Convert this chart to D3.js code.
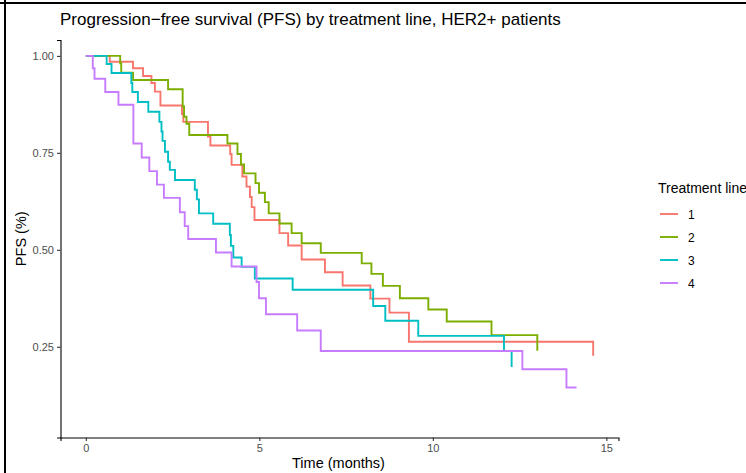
<!DOCTYPE html>
<html>
<head>
<meta charset="utf-8">
<script src="https://cdn.jsdelivr.net/npm/d3@7"></script>
<style>
  body { margin: 0; background: #ffffff; }
  svg text { font-family: "Liberation Sans", Arial, sans-serif; }
</style>
</head>
<body>
<div id="grafica_pfs"></div>
<script>
var lineas = ["1", "2", "3", "4"];
var colores = ["#F8766D", "#7CAE00", "#00BFC4", "#C77CFF"];

var tiempo1 = [0, 0.69, 1.36, 1.65, 1.89, 1.99, 2.15, 2.77, 2.81, 3.52, 3.59, 4.16, 4.20, 4.51, 4.63, 4.73, 4.78, 4.86, 5.58, 5.83, 6.22, 6.89, 7.40, 8.20, 8.75, 9.31, 14.62];
var pfs1 = [1, 0.985, 0.968, 0.948, 0.930, 0.908, 0.872, 0.850, 0.830, 0.792, 0.769, 0.747, 0.719, 0.689, 0.663, 0.636, 0.610, 0.577, 0.543, 0.511, 0.475, 0.442, 0.408, 0.374, 0.338, 0.263, 0.227];

var tiempo2 = [0, 0.99, 1.02, 1.36, 2.37, 2.79, 2.83, 2.90, 2.98, 4.08, 4.37, 4.47, 4.56, 4.89, 4.99, 5.16, 5.27, 5.58, 5.93, 6.22, 6.77, 7.95, 8.23, 8.56, 9.05, 9.87, 10.40, 11.69, 13.01];
var pfs2 = [1, 0.981, 0.957, 0.938, 0.914, 0.870, 0.843, 0.825, 0.796, 0.774, 0.747, 0.720, 0.697, 0.672, 0.647, 0.623, 0.594, 0.568, 0.543, 0.517, 0.492, 0.465, 0.438, 0.407, 0.375, 0.346, 0.315, 0.280, 0.240];

var tiempo3 = [0, 0.60, 0.74, 1.31, 1.34, 1.50, 1.80, 2.12, 2.18, 2.21, 2.28, 2.37, 2.42, 2.57, 3.14, 3.20, 3.26, 3.67, 4.15, 4.18, 4.25, 4.49, 4.87, 5.96, 8.28, 8.63, 9.58, 12.05, 12.27];
var pfs3 = [1, 0.979, 0.956, 0.930, 0.907, 0.881, 0.856, 0.830, 0.805, 0.781, 0.753, 0.727, 0.706, 0.680, 0.655, 0.630, 0.594, 0.567, 0.538, 0.510, 0.480, 0.456, 0.426, 0.397, 0.355, 0.317, 0.278, 0.239, 0.198];

var tiempo4 = [0, 0.20, 0.25, 0.56, 0.94, 1.37, 1.61, 1.83, 2.05, 2.25, 2.71, 2.85, 2.95, 3.75, 4.20, 4.92, 4.99, 5.19, 6.09, 6.77, 12.58, 13.85, 14.14];
var pfs4 = [1, 0.968, 0.941, 0.907, 0.874, 0.774, 0.738, 0.703, 0.668, 0.634, 0.597, 0.561, 0.528, 0.493, 0.457, 0.417, 0.375, 0.334, 0.292, 0.239, 0.192, 0.145, 0.145];

var xTicks = [0, 5, 10, 15];
var yTicks = [0.25, 0.50, 0.75, 1.00];

var tiempos = [tiempo1, tiempo2, tiempo3, tiempo4];
var valores = [pfs1, pfs2, pfs3, pfs4];

// dimensiones
var w_full = 746,
    h_full = 473;

var margin = {
        top: 40,
        right: 127.5,
        bottom: 35.5,
        left: 60.5
    };

var w = w_full - (margin.left + margin.right),
    h = h_full - (margin.top + margin.bottom);

var svg = d3.select("#grafica_pfs")
    .append("svg")
    .attr("width", w_full)
    .attr("height", h_full);

// marco negro de la captura
svg.append("line")
    .attr("x1", 0).attr("y1", 3).attr("x2", w_full).attr("y2", 3)
    .attr("stroke", "#000").attr("stroke-width", 2);
svg.append("line")
    .attr("x1", 5).attr("y1", 0).attr("x2", 5).attr("y2", h_full)
    .attr("stroke", "#000").attr("stroke-width", 2);

var svgT = svg.append("g")
    .attr("transform", "translate(" + margin.left + "," + margin.top + ")");

var x = d3.scaleLinear()
    .domain([-0.73, 15.35])
    .range([0, w]);

var y = d3.scaleLinear()
    .domain([0.016, 1.041])
    .range([h, 0]);

// curvas
for (var k = 0; k < lineas.length; k++) {
    var datos = tiempos[k].map(function(t, i) { return { t: t, s: valores[k][i] }; });
    svgT.append("path")
        .datum(datos)
        .attr("fill", "none")
        .attr("stroke", colores[k])
        .attr("stroke-width", 1.9)
        .attr("d", d3.line()
            .curve(d3.curveStepAfter)
            .x(function(d) { return x(d.t); })
            .y(function(d) { return y(d.s); })
        );
}

// ejes
var ejeX = svgT.append("g")
    .attr("transform", "translate(0," + h + ")")
    .call(d3.axisBottom(x).tickValues(xTicks).tickSize(3.5).tickPadding(3).tickFormat(d3.format("d")));

var ejeY = svgT.append("g")
    .call(d3.axisLeft(y).tickValues(yTicks).tickSize(3.5).tickPadding(3).tickFormat(d3.format(".2f")));

[ejeX, ejeY].forEach(function(eje) {
    eje.select(".domain").attr("stroke", "#000").attr("stroke-width", 1.1);
    eje.selectAll(".tick line").attr("stroke", "#333").attr("stroke-width", 1.1);
    eje.selectAll(".tick text")
        .attr("fill", "#4d4d4d")
        .style("font-size", "11px")
        .style("font-family", "'Liberation Sans', Arial, sans-serif");
});

// titulos
svg.append("text")
    .attr("x", 60)
    .attr("y", 25)
    .style("font-size", "17px")
    .attr("fill", "#000")
    .text("Progression\u2212free survival (PFS) by treatment line, HER2+ patients");

svg.append("text")
    .attr("x", margin.left + w / 2 - 1)
    .attr("y", 468)
    .style("text-anchor", "middle")
    .style("font-size", "14.5px")
    .text("Time (months)");

svg.append("text")
    .attr("transform", "translate(26," + (margin.top + h / 2) + ") rotate(-90)")
    .style("text-anchor", "middle")
    .style("font-size", "14.5px")
    .text("PFS (%)");

// leyenda
svg.append("text")
    .attr("x", 658)
    .attr("y", 193)
    .style("font-size", "14px")
    .text("Treatment line");

var leyY = [214, 237, 260, 283];
lineas.forEach(function(l, i) {
    svg.append("line")
        .attr("x1", 660).attr("x2", 678)
        .attr("y1", leyY[i]).attr("y2", leyY[i])
        .attr("stroke", colores[i])
        .attr("stroke-width", 1.9);
    svg.append("text")
        .attr("x", 688)
        .attr("y", leyY[i] + 4.5)
        .style("font-size", "12px")
        .text(l);
});
</script>
</body>
</html>
